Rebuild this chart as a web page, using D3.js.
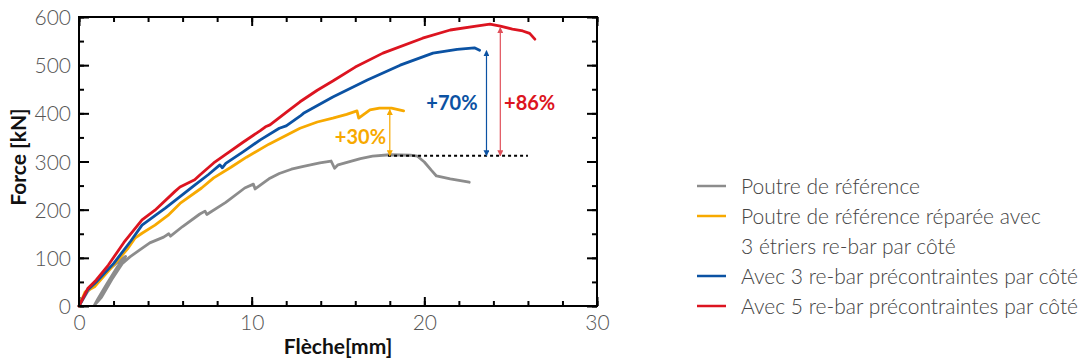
<!DOCTYPE html>
<html>
<head>
<meta charset="utf-8">
<script src="https://cdn.jsdelivr.net/npm/d3@7"></script>
<style>
  body { margin: 0; background: #fff; }
  svg { display: block; font-family: Lato, "Open Sans", sans-serif; }
</style>
</head>
<body>
<svg id="chart" width="1080" height="362"></svg>
<script>
// Poutre de référence
const refX = [0, 0.5, 1.0, 1.6, 2.2, 2.7, 2.2, 1.6, 1.1, 0.9, 1.3, 1.9, 2.5, 2.95, 3.5, 4.1, 4.9, 5.2, 5.3, 6.0, 7.0, 7.3, 7.4, 8.5, 9.6, 10.1, 10.2, 11.0, 11.6, 12.3, 13.0, 13.95, 14.6, 14.8, 15.0, 16.3, 17.0, 18.0, 19.2, 19.6, 20.0, 20.4, 20.7, 21.5, 22.6];
const refY = [0, 30, 52, 72, 90, 103, 80, 45, 15, 2, 18, 55, 88, 102, 116, 131, 143, 150, 145, 165, 191, 197, 190, 215, 245, 253, 243, 264, 275, 284, 290, 297, 301, 286, 293, 306, 311, 314, 313, 311, 299, 282, 270, 264, 257];

// réparée avec 3 étriers re-bar
const etrX = [0, 0.35, 0.9, 1.9, 2.8, 3.24, 3.65, 4.4, 5.15, 5.85, 7.1, 7.8, 8.8, 9.7, 11.0, 12.8, 13.8, 14.7, 15.5, 16.1, 16.2, 16.85, 17.4, 18.1, 18.8];
const etrY = [0, 29, 40, 81, 118, 141, 151, 168, 188, 213, 245, 266, 288, 309, 336, 369, 382, 390, 398, 405, 390, 407, 411, 411, 405];

// 3 re-bar précontraintes
const pre3X = [0, 0.5, 1.0, 2.0, 3.0, 3.65, 4.5, 5.0, 5.85, 6.7, 7.5, 8.16, 8.3, 8.5, 9.5, 10.5, 11.6, 12.0, 12.8, 13.0, 14.7, 16.7, 18.6, 20.5, 21.9, 22.9, 23.2];
const pre3Y = [0, 33, 50, 88, 135, 168, 190, 203, 227, 251, 273, 293, 287, 296, 320, 345, 369, 374, 394, 400, 434, 469, 500, 525, 533, 536, 531];

// 5 re-bar précontraintes
const pre5X = [0, 0.52, 1.0, 1.7, 2.6, 3.65, 4.4, 5.56, 5.85, 6.7, 7.0, 7.8, 8.5, 9.5, 10.5, 10.8, 11.06, 12.0, 12.8, 13.8, 14.7, 16.0, 17.6, 19.9, 21.5, 23.0, 23.8, 24.4, 25.1, 25.7, 26.1, 26.4];
const pre5Y = [0, 37, 54, 85, 132, 179, 199, 238, 247, 262, 272, 297, 315, 340, 364, 372, 376, 402, 424, 448, 467, 496, 525, 556, 573, 581, 585, 581, 575, 571, 566, 554];

const seriesNames = [
  ["Poutre de référence"],
  ["Poutre de référence réparée avec", "3 étriers re-bar par côté"],
  ["Avec 3 re-bar précontraintes par côté"],
  ["Avec 5 re-bar précontraintes par côté"]
];
const seriesColors = ["#8c8c8c", "#f7a900", "#0b52a3", "#dc1420"];

// gains vs. reference peak
const basePeak = 312;
const baseLine = [17.9, 26.0];
const gainLabels = ["+30%", "+70%", "+86%"];
const gainX = [18.0, 23.6, 24.4];
const gainTop = [408, 530, 578];
const gainTextX = [16.3, 21.6, 26.1];
const gainTextY = [352, 422, 422];
const gainColors = ["#f7a900", "#0b52a3", "#e0505a"];
const gainTextColors = ["#f7a900", "#0b52a3", "#dc1420"];

const xMajor = [0, 10, 20, 30];
const xMinor = d3.range(0, 31, 2);
const yMajor = [0, 100, 200, 300, 400, 500, 600];
const yMinor = d3.range(0, 601, 50);

const svg = d3.select("#chart");
const plotL = 79, plotR = 597, plotT = 17, plotB = 306;

const x = d3.scaleLinear().domain([0, 30]).range([plotL, plotR]);
const y = d3.scaleLinear().domain([0, 600]).range([plotB, plotT]);

// ticks, inward on all four sides
const tickAxis = (axis, tr, values, size, labels) => {
  const g = svg.append("g")
    .attr("transform", tr)
    .call(axis.tickValues(values).tickSize(size).tickFormat(labels ? d3.format("d") : ""));
  g.select(".domain").remove();
  g.selectAll(".tick line").attr("stroke", "#000").attr("stroke-width", 2);
  return g;
};

tickAxis(d3.axisBottom(x), `translate(0,${plotB})`, xMinor, -5, false);
tickAxis(d3.axisTop(x), `translate(0,${plotT})`, xMinor, -5, false);
tickAxis(d3.axisTop(x), `translate(0,${plotT})`, xMajor, -9, false);
tickAxis(d3.axisLeft(y), `translate(${plotL},0)`, yMinor, -5, false);
tickAxis(d3.axisRight(y), `translate(${plotR},0)`, yMinor, -5, false);
tickAxis(d3.axisRight(y), `translate(${plotR},0)`, yMajor, -10, false);

const xAx = tickAxis(d3.axisBottom(x), `translate(0,${plotB})`, xMajor, -9, true);
xAx.selectAll(".tick text")
  .attr("y", 24).attr("dy", "0")
  .attr("fill", "#555").attr("font-size", 21).attr("font-weight", 300)
  .attr("font-family", "Lato");
const yAx = tickAxis(d3.axisLeft(y), `translate(${plotL},0)`, yMajor, -10, true);
yAx.selectAll(".tick text")
  .attr("x", -8).attr("dy", "0.36em")
  .attr("fill", "#555").attr("font-size", 21).attr("font-weight", 300)
  .attr("font-family", "Lato");

// curves
const allX = [refX, etrX, pre3X, pre5X];
const allY = [refY, etrY, pre3Y, pre5Y];
const line = d3.line().x(d => x(d[0])).y(d => y(d[1]));

allX.forEach((xs, i) => {
  svg.append("path")
    .datum(xs.map((v, j) => [v, allY[i][j]]))
    .attr("d", line)
    .attr("fill", "none")
    .attr("stroke", seriesColors[i])
    .attr("stroke-width", 2.8)
    .attr("stroke-linejoin", "round")
    .attr("stroke-linecap", "round");
});

// reference peak dashed line
svg.append("line")
  .attr("x1", x(baseLine[0])).attr("x2", x(baseLine[1]))
  .attr("y1", y(basePeak)).attr("y2", y(basePeak))
  .attr("stroke", "#000").attr("stroke-width", 2)
  .attr("stroke-dasharray", "3,3");

// double arrows
const defs = svg.append("defs");
gainColors.forEach((c, i) => {
  defs.append("marker")
    .attr("id", "ah" + i)
    .attr("viewBox", "0 0 10 10")
    .attr("refX", 9).attr("refY", 5)
    .attr("markerWidth", 6).attr("markerHeight", 6)
    .attr("markerUnits", "userSpaceOnUse")
    .attr("orient", "auto-start-reverse")
    .append("path")
    .attr("d", "M0,0L10,5L0,10z")
    .attr("fill", c);
});

gainLabels.forEach((lab, i) => {
  svg.append("line")
    .attr("x1", x(gainX[i])).attr("x2", x(gainX[i]))
    .attr("y1", y(gainTop[i])).attr("y2", y(basePeak))
    .attr("stroke", gainColors[i]).attr("stroke-width", 1.2)
    .attr("marker-start", `url(#ah${i})`)
    .attr("marker-end", `url(#ah${i})`);
  svg.append("text")
    .attr("x", x(gainTextX[i])).attr("y", y(gainTextY[i]))
    .attr("text-anchor", "middle").attr("dy", "0.36em")
    .attr("fill", gainTextColors[i])
    .attr("font-size", 20).attr("font-weight", 700)
    .text(lab);
});

// frame
svg.append("rect")
  .attr("x", plotL).attr("y", plotT)
  .attr("width", plotR - plotL).attr("height", plotB - plotT)
  .attr("fill", "none").attr("stroke", "#000").attr("stroke-width", 2);

// axis titles
svg.append("text")
  .attr("x", (plotL + plotR) / 2).attr("y", 354)
  .attr("text-anchor", "middle")
  .attr("font-size", 21).attr("font-weight", 700).attr("fill", "#111")
  .text("Flèche[mm]");
svg.append("text")
  .attr("transform", "translate(26,157) rotate(-90)")
  .attr("text-anchor", "middle")
  .attr("font-size", 21).attr("font-weight", 700).attr("fill", "#111")
  .text("Force [kN]");

// legend
const leg = svg.append("g").attr("transform", "translate(697,186)");
let row = 0;
seriesNames.forEach((lines, i) => {
  const gy = row * 30;
  leg.append("line")
    .attr("x1", 0).attr("x2", 29).attr("y1", gy).attr("y2", gy)
    .attr("stroke", seriesColors[i]).attr("stroke-width", 2.5);
  lines.forEach((t, k) => {
    leg.append("text")
      .attr("x", 44).attr("y", gy + k * 30).attr("dy", "0.36em")
      .attr("font-size", 21).attr("font-weight", 300).attr("fill", "#444")
      .text(t);
  });
  row += lines.length;
});
</script>
</body>
</html>
